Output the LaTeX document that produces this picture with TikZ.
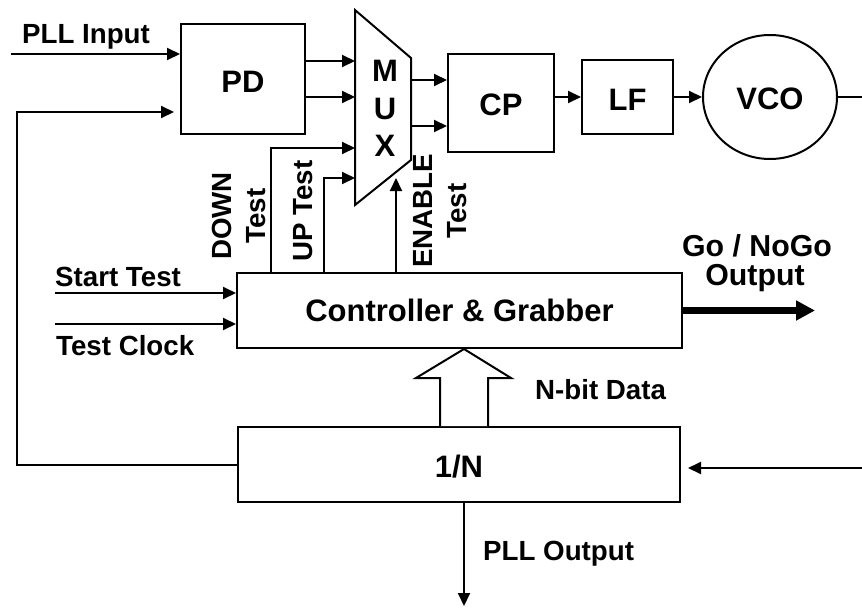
\documentclass[tikz,border=0pt]{standalone}
\usepackage{fontspec}
\setmainfont{Liberation Sans}
\usetikzlibrary{arrows.meta,calc,shapes.geometric}
\begin{document}
\begin{tikzpicture}[x=1pt,y=-1pt,
  box/.style={draw, line width=2pt, rectangle, inner sep=0pt, text depth=0pt},
  arr/.style={line width=2pt, -{Triangle[length=13pt,width=12pt]}},
  ln/.style={line width=2pt},
  big/.style={font=\bfseries\fontsize{31}{37.5}\selectfont},
  lab/.style={font=\bfseries\fontsize{27.7}{34}\selectfont, inner sep=0pt},
]
\useasboundingbox (0,0) rectangle (862,608);

% blocks
\node[box,big,minimum width=124pt,minimum height=110pt,text height=26pt] (pd) at (243,79) {PD};
\node[box,big,minimum width=106pt,minimum height=98pt,text height=24pt] (cp) at (501,103) {CP};
\node[box,big,minimum width=91pt,minimum height=74pt,text height=26pt] (lf) at (627.5,97) {LF};
\node[draw,line width=2pt,ellipse,inner sep=0pt,big,minimum width=134pt,minimum height=124pt,text height=24pt,text depth=0pt] (vco) at (770,97) {VCO};
\node[box,big,minimum width=445pt,minimum height=75pt,text height=21pt] (ctrl) at (459.5,310.5) {Controller \& Grabber};
\node[box,big,minimum width=442pt,minimum height=75pt,text height=25pt] (div) at (459,464.5) {1/N};

% MUX
\coordinate (mtl) at (355,10);
\coordinate (mtr) at (411,58);
\coordinate (mbr) at (411,160);
\coordinate (mbl) at (355,205);
\draw[ln, line join=miter] (mtl) -- (mtr) -- (mbr) -- (mbl) -- cycle;
\node[big, align=center, inner sep=0pt] (muxtext) at (385,108.4) {M\\U\\X};

% PLL input
\coordinate (pllin) at (11,54);
\draw[arr] (pllin) -- (pllin -| pd.west);
\node[lab, anchor=base west] (lpllin) at (22,43) {PLL Input};

% feedback from 1/N to PD
\coordinate (fb) at (17,112);
\draw[arr, shorten >=6pt] (div.west) -| (fb) -- (fb -| pd.west);

% PD -> MUX
\coordinate (mi1) at (355,61);
\coordinate (mi2) at (355,97);
\draw[arr] (mi1 -| pd.east) -- (mi1);
\draw[arr] (mi2 -| pd.east) -- (mi2);

% MUX -> CP
\coordinate (mo1) at (411,80);
\coordinate (mo2) at (411,126);
\draw[arr] (mo1) -- (mo1 -| cp.west);
\draw[arr] (mo2) -- (mo2 -| cp.west);

% CP -> LF -> VCO
\draw[arr] (lf.west -| cp.east) -- (lf.west);
\draw[arr] (lf.east) -- (vco.west);
\coordinate (vout) at (862,97);
\draw[ln] (vco.east) -- (vout);

% return into 1/N
\coordinate (rin) at (862,468);
\draw[arr, shorten >=7pt] (rin) -- (rin -| div.east);

% test inputs
\coordinate (st) at (55,293);
\coordinate (tc) at (55,324);
\draw[arr] (st) -- (st -| ctrl.west);
\draw[arr] (tc) -- (tc -| ctrl.west);
\node[lab, anchor=base west] (lst) at (55,286) {Start Test};
\node[lab, anchor=base west] (ltc) at (56,355) {Test Clock};

% controller -> MUX
\coordinate (dn) at (271,148);
\coordinate (up) at (324,178);
\coordinate (en) at (396,178);
\draw[arr] (ctrl.north -| dn) |- (mtl |- dn);
\draw[arr] (ctrl.north -| up) |- (mtl |- up);
\draw[arr] (ctrl.north -| en) -- (en);
\node[lab, rotate=90, align=center] (ldn) at (239.1,216) {DOWN\\Test};
\node[lab, rotate=90, anchor=base] (lup) at (312,211) {UP Test};
\node[lab, rotate=90, align=center] (len) at (440.1,211) {ENABLE\\Test};

% Go / NoGo
\coordinate (go) at (815,310.5);
\draw[line width=7pt, -{Triangle[length=19pt,width=19pt]}] (ctrl.east) -- (go);
\node[lab, font=\bfseries\fontsize{30.3}{36}\selectfont, anchor=base] (lgo) at (757,256) {Go / NoGo};
\node[lab, font=\bfseries\fontsize{30.3}{36}\selectfont, anchor=base] (lgo2) at (755,285) {Output};

% N-bit data hollow arrow
\coordinate (nb) at (464,427);
\draw[ln, fill=white, line join=miter]
  ($(div.north -| nb)+(-24,0)$) -- ++(0,-48) -- ++(-24,0) -- (ctrl.south -| nb)
  -- ($(div.north -| nb)+(47,-48)$) -- ++(-23,0) -- ($(div.north -| nb)+(24,0)$);
\node[lab, anchor=base west] (lnb) at (535,399) {N-bit Data};

% PLL output
\coordinate (pout) at (464,606);
\draw[arr] (div.south -| pout) -- (pout);
\node[lab, anchor=base west] (lpo) at (483,560) {PLL Output};
\end{tikzpicture}
\end{document}
